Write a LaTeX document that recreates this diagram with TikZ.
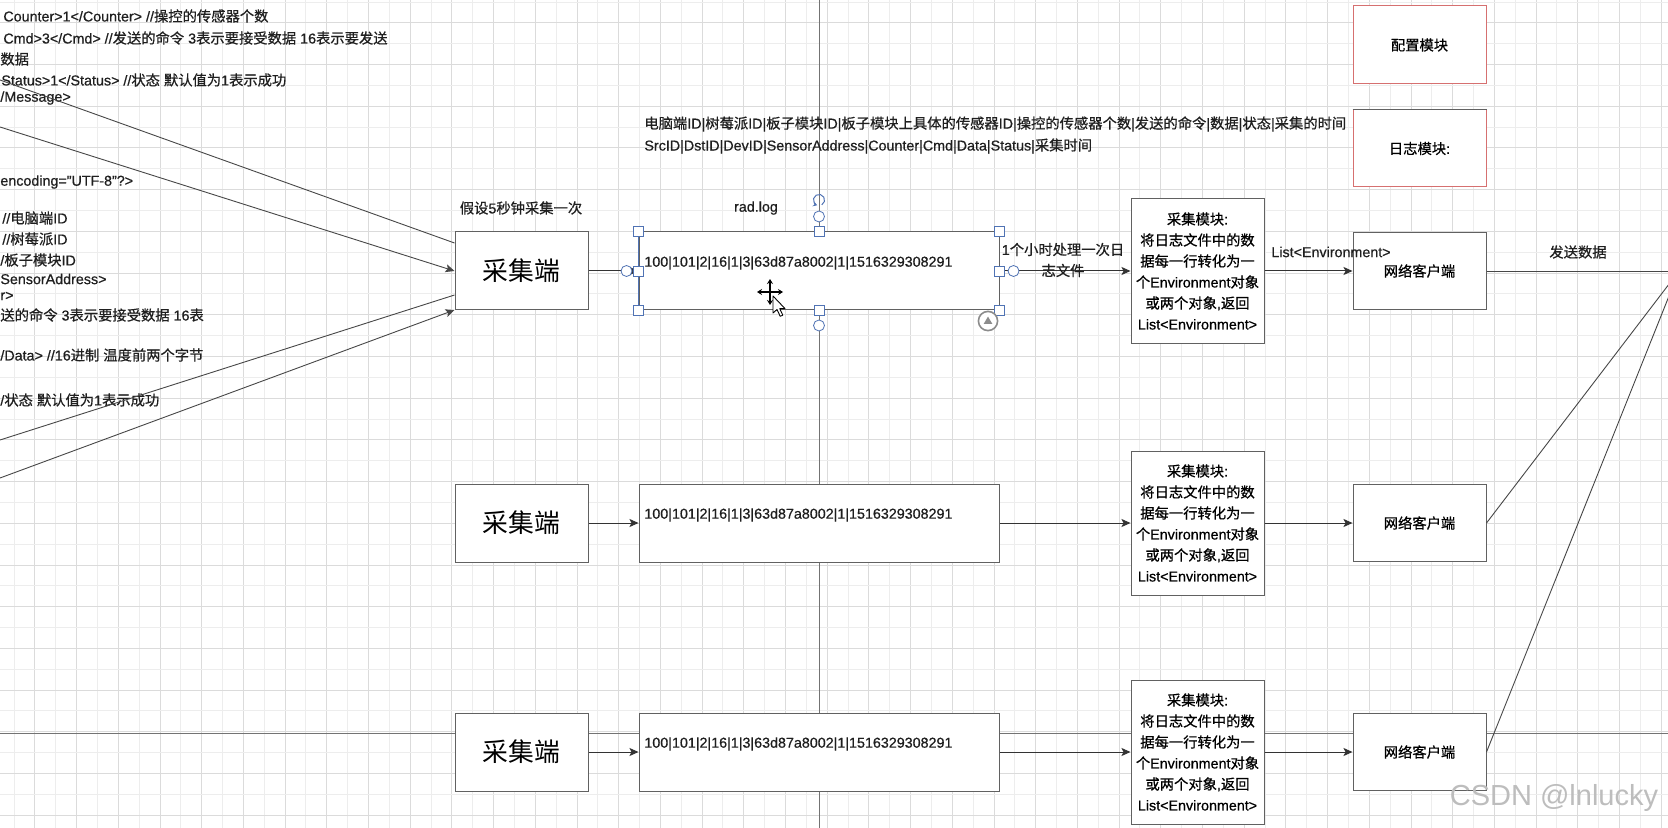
\documentclass[tikz,border=0pt]{standalone}
\usepackage{fontspec}
\setmainfont[FakeBold=0.6,AutoFakeBold=0.6]{Liberation Sans}
\newfontfamily\cjkf[FakeBold=0.6,AutoFakeBold=0.6]{Noto Sans CJK SC}
\newfontfamily\cjkplain{Noto Sans CJK SC}
\newfontfamily\latf[FakeBold=0.6,AutoFakeBold=0.6]{Liberation Sans}
\newfontfamily\wmfont{Liberation Sans}
\usetikzlibrary{arrows.meta,calc}
\let\cjkcurrent\cjkf
\XeTeXinterchartokenstate=1
\newXeTeXintercharclass\CJKcls
\count255="3000
\loop \XeTeXcharclass\count255=\CJKcls \advance\count255 by 1 \ifnum\count255<"3040 \repeat
\count255="4E00
\loop \XeTeXcharclass\count255=\CJKcls \advance\count255 by 1 \ifnum\count255<"A000 \repeat
\count255="FF00
\loop \XeTeXcharclass\count255=\CJKcls \advance\count255 by 1 \ifnum\count255<"FFF0 \repeat
\XeTeXinterchartoks 0 \CJKcls={\cjkcurrent}
\XeTeXinterchartoks 4095 \CJKcls={\cjkcurrent}
\XeTeXinterchartoks \CJKcls 0={\latf}
\XeTeXinterchartoks \CJKcls 4095={\latf}
\newcommand\myfs{\fontsize{7.15pt}{10.5pt}\selectfont}
\newcommand\mybigfs{\fontsize{12.9pt}{15pt}\selectfont\let\cjkcurrent\cjkplain}
\definecolor{gridL}{gray}{0.93}
\definecolor{gridD}{gray}{0.86}
\definecolor{boxline}{gray}{0.38}
\definecolor{redline}{RGB}{214,112,112}
\definecolor{selblue}{RGB}{80,115,180}
\definecolor{wm}{gray}{0.74}
\tikzset{
  box/.style={draw=boxline, line width=0.5pt, fill=white, inner sep=0pt},
  cjbox/.style={box, minimum width=66.5pt, minimum height=39pt, font=\mybigfs},
  logbox/.style={box, minimum width=180pt, minimum height=39pt},
  modbox/.style={box, minimum width=66.5pt, minimum height=72pt, align=center, font=\myfs},
  netbox/.style={box, minimum width=66.5pt, minimum height=38.5pt, font=\myfs},
  cfgbox/.style={box, draw=redline, minimum width=66.5pt, minimum height=39pt, font=\myfs},
  txt/.style={inner sep=0pt, font=\myfs, text=black!88},
  lefttxt/.style={txt, anchor=west},
  conn/.style={draw=black!80, line width=0.5pt, -{Stealth[length=4.5pt,width=4pt,inset=1pt]}},
  plainline/.style={draw=black!72, line width=0.45pt},
  guide/.style={draw=black!55, line width=0.45pt},
  handle/.style={rectangle, draw=selblue, fill=white, line width=0.4pt, minimum size=5pt, inner sep=0pt},
  cpoint/.style={circle, draw=selblue, fill=white, line width=0.4pt, minimum size=5.5pt, inner sep=0pt},
}
\begin{document}
\begin{tikzpicture}[x=0.5pt,y=-0.5pt]
\useasboundingbox (0,0) rectangle (1668,828);
\clip (0,0) rectangle (1668,828);
\fill[white] (0,0) rectangle (1668,828);
% grid
\foreach \i in {0,...,79} {
  \pgfmathtruncatemacro\odd{mod(\i,2)}
  \ifnum\odd=1 \def\gc{gridD}\else\def\gc{gridL}\fi
  \draw[draw=\gc, line width=0.5pt] ({14.05+\i*20.85},0) -- ({14.05+\i*20.85},828);
}
\foreach \j in {0,...,39} {
  \pgfmathtruncatemacro\odd{mod(\j,2)}
  \ifnum\odd=1 \def\gc{gridD}\else\def\gc{gridL}\fi
  \draw[draw=\gc, line width=0.5pt] (0,{2.05+\j*20.85}) -- (1668,{2.05+\j*20.85});
}
% guide lines behind boxes
\draw[guide] (819,0) -- (819,828);
\draw[guide] (0,733) -- (1668,733);

% left XML text (cut off at the left edge of the picture)
\node[lefttxt] (t1) at (3,16) {Counter>1</Counter> //操控的传感器个数};
\node[lefttxt] (t2) at (3,38) {Cmd>3</Cmd> //发送的命令 3表示要接受数据 16表示要发送};
\node[lefttxt] (t3) at (0,59) {数据};
\node[lefttxt] (t4) at (1,80) {Status>1</Status> //状态 默认值为1表示成功};
\node[lefttxt] (t5) at (0,98) {/Message>};
\node[lefttxt] (t6) at (0,182) {encoding="UTF-8"?>};
\node[lefttxt] (t7) at (2,218) {//电脑端ID};
\node[lefttxt] (t8) at (2,239) {//树莓派ID};
\node[lefttxt] (t9) at (0,260) {/板子模块ID};
\node[lefttxt] (t10) at (0,279) {SensorAddress>};
\node[lefttxt] (t11) at (0,296) {r>};
\node[lefttxt] (t12) at (0,315) {送的命令 3表示要接受数据 16表};
\node[lefttxt] (t13) at (0,355) {/Data> //16进制 温度前两个字节};
\node[lefttxt] (t14) at (0,400) {/状态 默认值为1表示成功};

% top explanation
\node[lefttxt] (hdr1) at (644,124) {电脑端ID|树莓派ID|板子模块ID|板子模块上具体的传感器ID|操控的传感器个数|发送的命令|数据|状态|采集的时间};
\node[lefttxt] (hdr2) at (644,146) {SrcID|DstID|DevID|SensorAddress|Counter|Cmd|Data|Status|采集时间};
\node[txt] (lbl5s) at (521,208) {假设5秒钟采集一次};
\node[txt] (lblrad) at (756,208) {rad.log};

% config / log modules
\node[cfgbox] (cfg) at (1419.5,45) {配置模块};
\node[cfgbox, minimum height=38.5pt] (logm) at (1419.5,148.5) {日志模块:};
\draw[boxline, line width=0.5pt] (logm.north west) -- (logm.north east);

% rows
\foreach \r/\yy in {1/271, 2/523, 3/752} {
  \node[cjbox] (cj\r) at (521.5,\yy) {采集端};
  \node[logbox] (log\r) at (819,\yy) {};
  \node[lefttxt] (logt\r) at (644,\yy-8) {100|101|2|16|1|3|63d87a8002|1|1516329308291};
  \node[modbox] (mod\r) at (1197.5,\yy) {采集模块:\\将日志文件中的数\\据每一行转化为一\\个Environment对象\\或两个对象,返回\\List<Environment>};
  \node[netbox] (net\r) at (1419.5,\yy) {网络客户端};
  \draw[conn] (cj\r) -- (log\r);
  \draw[conn] (log\r) -- (mod\r);
  \draw[conn] (mod\r) -- (net\r);
}
\node[txt, align=center] (lblhour) at (1063,260) {1个小时处理一次日\\志文件};
\node[txt] (lbllist) at (1331,252) {List<Environment>};
\node[txt] (lblsend) at (1578,252) {发送数据};

% outgoing lines to off-picture receiver
\coordinate (srv) at (1679,271);
\draw[plainline] (net1) -- (srv);
\draw[plainline] (net2.east) -- (srv);
\draw[plainline] (net3.east) -- (srv);

% incoming diagonals from the XML text on the left
\coordinate (l1) at (0,80);
\coordinate (l2) at (0,127);
\coordinate (l3) at (0,440);
\coordinate (l4) at (0,478);
\draw[plainline] (l1) -- ([yshift=14pt]cj1.west);
\draw[plainline, -{Stealth[length=4.5pt,width=4pt,inset=1pt]}] (l2) -- (cj1.west);
\draw[plainline] (l3) -- ([yshift=-12pt]cj1.west);
\draw[plainline, -{Stealth[length=4.5pt,width=4pt,inset=1pt]}] (l4) -- ([yshift=-19.5pt]cj1.west);

% selection decorations on the first rad.log box
\draw[selblue, line width=0.6pt] (log1.north west) -- (log1.south west);
\node[cpoint] (cpl) at ([xshift=-6pt]log1.west) {};
\node[cpoint] (cpr) at ([xshift=7pt]log1.east) {};
\node[cpoint] (cpt) at ([yshift=7.5pt]log1.north) {};
\node[cpoint] (cpb) at ([yshift=-7.5pt]log1.south) {};
\foreach \a [count=\k] in {north west,north,north east,west,east,south west,south,south east} {
  \node[handle] (hd\k) at (log1.\a) {};
}
\coordinate (rot) at (819,200);
\draw[selblue, line width=0.5pt, -{Stealth[length=2pt,width=2.5pt]}] ([shift={(-60:2.8pt)}]rot) arc[start angle=-60, end angle=250, radius=2.8pt];
\coordinate (btn) at (988,321);
\draw[black!45, line width=0.8pt, fill=white] (btn) circle (4.8pt);
\fill[black!45] ([yshift=2.2pt]btn) -- ([xshift=-2.2pt,yshift=-1.5pt]btn) -- ([xshift=2.2pt,yshift=-1.5pt]btn) -- cycle;
% move cursor and mouse pointer
\coordinate (mv) at (770,292);
\foreach \d in {(0,-13),(0,13),(-13,0),(13,0)} {
  \draw[black, line width=0.7pt, -{Stealth[length=2.5pt,width=3pt]}] (mv) -- ++\d;
}
\draw[black, line width=0.45pt, fill=white, line join=round] (773,296) -- ++(0,17) -- ++(4,-3.5) -- ++(3.2,6.8) -- ++(2.6,-1.1) -- ++(-3.1,-6.6) -- ++(5.3,0) -- cycle;

% watermark
\node[inner sep=0pt, text=wm, font=\wmfont\fontsize{14.5pt}{16pt}\selectfont] (wmark) at (1554,798) {CSDN @lnlucky};
\end{tikzpicture}
\end{document}
